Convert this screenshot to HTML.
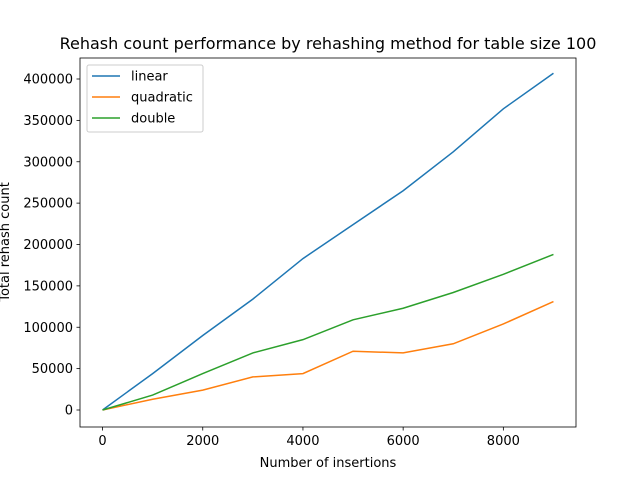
<!DOCTYPE html>
<html><head><meta charset="utf-8"><style>
body{margin:0;background:#fff}
text{font-family:"DejaVu Sans","Liberation Sans",sans-serif;font-size:13px;fill:#000}
</style></head><body>
<svg id="chart" width="640" height="480">
<rect width="640" height="480" fill="#fff"/>
<text x="328" y="49" text-anchor="middle" style="font-size:16px">Rehash count performance by rehashing method for table size 100</text>
<g id="plot"></g>
<text x="328" y="467" text-anchor="middle">Number of insertions</text>
<text transform="translate(9,242) rotate(-90)" text-anchor="middle">Total rehash count</text>
</svg>
<script>
const xs=[0,1000,2000,3000,4000,5000,6000,7000,8000,9000];
const linear=[0,44000,90000,134000,183000,224000,265000,312000,364000,407000];
const quadratic=[0,13000,24000,40000,44000,71000,69000,80000,104000,131000];
const double=[0,18000,44000,69000,85000,109000,123000,142000,164000,188000];
const xTicks=[0,2000,4000,6000,8000];
const yTicks=[0,50000,100000,150000,200000,250000,300000,350000,400000];
const names=['linear','quadratic','double'];
const colors=['#1f77b4','#ff7f0e','#2ca02c'];
const L=80,R=576,T=58,B=427;
const X=v=>L+(v+450)/9900*(R-L);
const Y=v=>410-v*331/400000;
const ns='http://www.w3.org/2000/svg';
const g=document.getElementById('plot');
function mk(t,a){const e=document.createElementNS(ns,t);for(const k in a)e.setAttribute(k,a[k]);g.appendChild(e);return e;}
[linear,quadratic,double].forEach((s,i)=>{
 const p=mk('polyline',{points:s.map((v,j)=>X(xs[j])+','+Y(v)).join(' '),fill:'none',stroke:colors[i],'stroke-width':1.5});
 
 
});
const fr=mk('rect',{x:L,y:T,width:R-L,height:B-T,fill:'none',stroke:'#000','stroke-width':0.8});


xTicks.forEach(v=>{
 mk('line',{x1:X(v),x2:X(v),y1:B,y2:B+3.5,stroke:'#000','stroke-width':0.8});
 const t=mk('text',{x:X(v),y:B+18,'text-anchor':'middle'});t.textContent=v;
 
 
});
yTicks.forEach(v=>{
 mk('line',{x1:L-3.5,x2:L,y1:Y(v),y2:Y(v),stroke:'#000','stroke-width':0.8});
 const t=mk('text',{x:L-7,y:Y(v)+4.5,'text-anchor':'end'});t.textContent=v;
 
 
});
const lg=mk('rect',{x:87,y:65,width:116,height:67,fill:'#fff',stroke:'#ccc',rx:2});


names.forEach((n,i)=>{
 const y=76+i*21;
 mk('line',{x1:92,x2:120,y1:y,y2:y,stroke:colors[i],'stroke-width':1.5});
 const t=mk('text',{x:131,y:y+4.5});t.textContent=n;
 
 
});
</script>
</body></html>
